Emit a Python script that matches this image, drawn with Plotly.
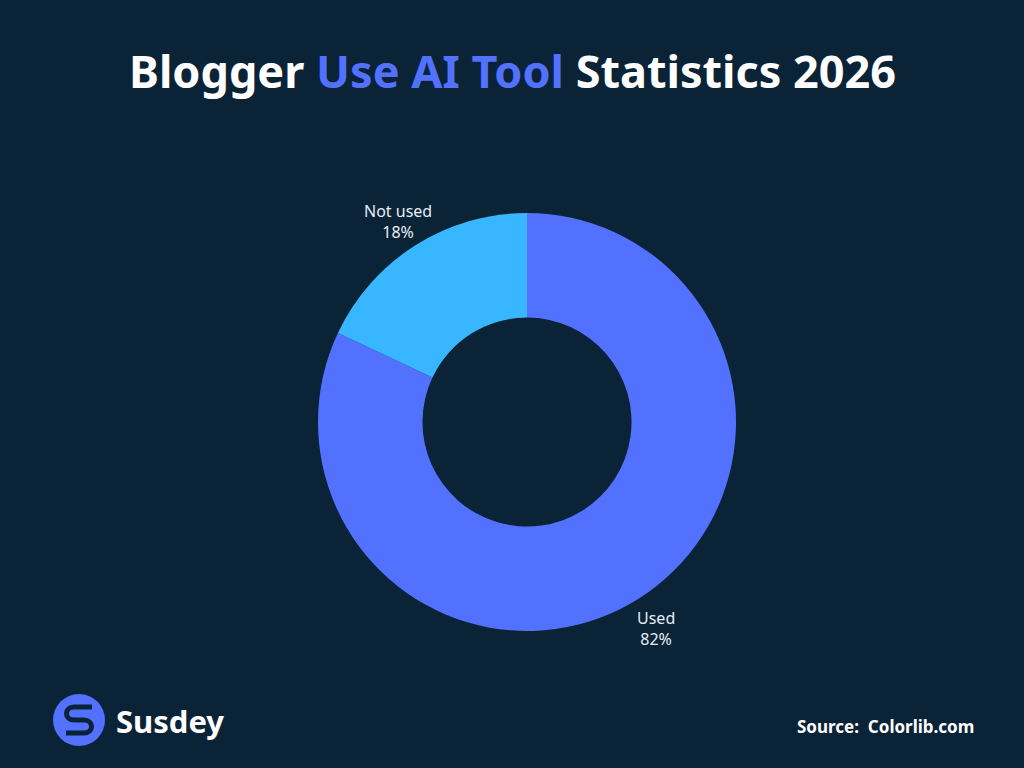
import math
import plotly.graph_objects as go

labels = ["Used", "Not used"]
values = [82, 18]
colors = ["#5271FF", "#38B6FF"]

BG = "#0A2336"

W, H = 1024, 768
cx, cy, r = 527, 422, 209
label_r = 241

fig = go.Figure(go.Pie(
    labels=labels,
    values=values,
    hole=0.5,
    sort=False,
    direction="clockwise",
    rotation=0,
    marker=dict(colors=colors, line=dict(width=0)),
    textinfo="none",
    showlegend=False,
    hoverinfo="label+percent",
    domain=dict(x=[(cx - r) / W, (cx + r) / W], y=[(H - cy - r) / H, (H - cy + r) / H]),
))

# outside labels placed at slice mid-angles
annots = []
total = sum(values)
start = 0.0
for lab, v in zip(labels, values):
    mid = (start + v / 2) / total * 2 * math.pi
    start += v
    px = cx + label_r * math.sin(mid)
    py = cy - label_r * math.cos(mid) + 3
    annots.append(dict(text=f"{lab}<br>{round(v / total * 100)}%", x=px / W, y=(H - py) / H,
                       xref="paper", yref="paper", xanchor="center", yanchor="middle",
                       showarrow=False, align="center",
                       font=dict(family="Noto Sans", size=16, color="#E6EDF5")))

annots += [
    dict(text="<b>Blogger <span style='color:#5271FF'>Use AI Tool</span> Statistics 2026</b>",
         x=0.5, y=(H - 71) / H, xref="paper", yref="paper", xanchor="center", yanchor="middle",
         showarrow=False, font=dict(family="Noto Sans", size=45, color="#FFFFFF")),
    dict(text="<b>Susdey</b>", x=114 / W, y=(H - 721) / H, xref="paper", yref="paper",
         xanchor="left", yanchor="middle", showarrow=False,
         font=dict(family="Noto Sans", size=31, color="#FFFFFF")),
    dict(text="<b>Source:  Colorlib.com</b>", x=976 / W, y=(H - 726) / H, xref="paper", yref="paper",
         xanchor="right", yanchor="middle", showarrow=False,
         font=dict(family="Noto Sans", size=17, color="#FFFFFF")),
]

fig.update_layout(
    width=W, height=H,
    margin=dict(l=0, r=0, t=0, b=0),
    paper_bgcolor=BG, plot_bgcolor=BG,
    annotations=annots,
    shapes=[
        dict(type="circle", xref="paper", yref="paper",
             x0=53 / W, x1=105 / W, y0=(H - 746) / H, y1=(H - 694) / H,
             fillcolor="#5271FF", line=dict(width=0), layer="above"),
        dict(type="path", xref="paper", yref="paper",
             path=" ".join([
                 f"M {92/W} {(H-707)/H}",
                 f"L {74/W} {(H-707)/H}",
                 f"C {64/W} {(H-707)/H} {64/W} {(H-720)/H} {74/W} {(H-720)/H}",
                 f"L {84/W} {(H-720)/H}",
                 f"C {94/W} {(H-720)/H} {94/W} {(H-733)/H} {84/W} {(H-733)/H}",
                 f"L {66/W} {(H-733)/H}",
             ]),
             line=dict(color=BG, width=5), layer="above"),
    ],
)

fig.write_html("out.html")
